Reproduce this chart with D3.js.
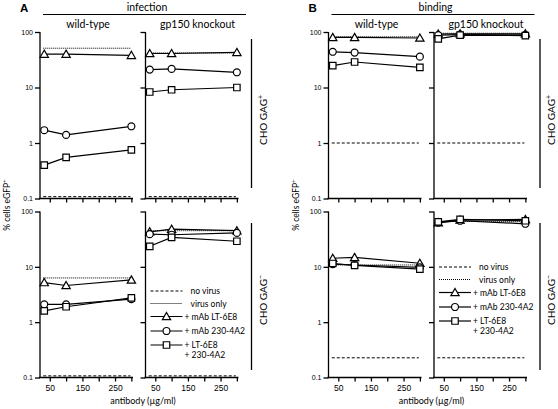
<!DOCTYPE html>
<html><head><meta charset="utf-8">
<script src="https://cdn.jsdelivr.net/npm/d3@7"></script>
<style>
body{margin:0;background:#fff;}
svg{font-family:Lato,"Open Sans",sans-serif;}
</style></head>
<body><svg id="c" width="558" height="409"></svg>
<script>
// ---------- data ----------
const doses = [33, 100, 300];
const xTicks = [50, 100, 150, 200, 250, 300];
const xTickLabels = ["50", "", "150", "", "250", ""];
const yTicks = [0.1, 1, 10, 100];
const yTickLabels = ["0.1", "1", "10", "100"];
const seriesNames = ["+ mAb LT-6E8", "+ mAb 230-4A2", "+ LT-6E8\n+ 230-4A2"];
const refNames = ["no virus", "virus only"];

// Infection, wild-type, CHO GAG+
const infWtPosLT = [40, 40, 38];
const infWtPos230 = [1.7, 1.4, 2.0];
const infWtPosCombo = [0.40, 0.55, 0.75];
const infWtPosRef = [0.108, 51];
// Infection, gp150 knockout, CHO GAG+
const infKoPosLT = [41, 41, 43];
const infKoPos230 = [21, 21.6, 18.8];
const infKoPosCombo = [8.3, 9.1, 10];
const infKoPosRef = [0.108, 42];
// Infection, wild-type, CHO GAG-
const infWtNegLT = [5.2, 4.6, 5.8];
const infWtNeg230 = [2.1, 2.1, 2.6];
const infWtNegCombo = [1.6, 1.9, 2.75];
const infWtNegRef = [0.107, 6.3];
// Infection, gp150 knockout, CHO GAG-
const infKoNegLT = [43, 48, 45];
const infKoNeg230 = [39, 38, 41];
const infKoNegCombo = [23.5, 34, 29];
const infKoNegRef = [0.107, 45];
// Binding, wild-type, CHO GAG+
const binWtPosLT = [80, 80, 78];
const binWtPos230 = [44, 42.5, 36];
const binWtPosCombo = [24.7, 28.8, 23];
const binWtPosRef = [1.0, 82];
// Binding, gp150 knockout, CHO GAG+
const binKoPosLT = [92, 93, 93];
const binKoPos230 = [88, 90, 89];
const binKoPosCombo = [75, 88, 86];
const binKoPosRef = [1.0, 95];
// Binding, wild-type, CHO GAG-
const binWtNegLT = [14.3, 14.8, 11.6];
const binWtNeg230 = [11.2, 10.8, 9.8];
const binWtNegCombo = [11.5, 10.6, 9.1];
const binWtNegRef = [0.227, 10.8];
// Binding, gp150 knockout, CHO GAG-
const binKoNegLT = [63, 70, 72];
const binKoNeg230 = [63, 68, 60];
const binKoNegCombo = [65, 72, 68];
const binKoNegRef = [0.227, 66];

// ---------- drawing ----------
const svg = d3.select("#c");
const rows = [{top: 32, bot: 198.5}, {top: 211.5, bot: 377.5}];
const plotW = 93;

function drawPlot(x0, row, series, ref, opts) {
  const g = svg.append("g");
  const x = d3.scaleLinear().domain([20, 305]).range([x0, x0 + plotW]);
  const y = d3.scaleLog().domain([0.1, 100]).range([row.bot, row.top]);
  const ya = d3.axisLeft(y).tickValues(yTicks).tickSize(5).tickPadding(2)
    .tickFormat((d, i) => opts.yLabels ? yTickLabels[i] : "");
  const yg = g.append("g").attr("transform", `translate(${x0},0)`).call(ya);
  yg.select(".domain").attr("d", `M0,${row.top}V${row.bot}`);
  const xa = d3.axisBottom(x).tickValues(xTicks).tickSize(4).tickPadding(3)
    .tickFormat((d, i) => opts.xLabels ? xTickLabels[i] : "");
  const xg = g.append("g").attr("transform", `translate(0,${row.bot})`).call(xa);
  xg.select(".domain").attr("d", `M${x0 - 1},0H${x0 + plotW}`);
  [yg, xg].forEach(a => {
    a.selectAll("path,line").attr("stroke", "#000").attr("stroke-width", 1.3);
    a.selectAll("text").attr("fill", "#000");
  });
  xg.selectAll("text").attr("font-size", 8.5);
  yg.selectAll("text").attr("font-size", 7);
  const x1 = x(30), x2 = x(297);
  g.append("line").attr("x1", x1).attr("x2", x2).attr("y1", y(ref[0])).attr("y2", y(ref[0]))
    .attr("stroke", "#000").attr("stroke-width", 1).attr("stroke-dasharray", "3,2");
  g.append("line").attr("x1", x1).attr("x2", x2).attr("y1", y(ref[1])).attr("y2", y(ref[1]))
    .attr("stroke", "#000").attr("stroke-width", 1).attr("stroke-dasharray", "1,1");
  const line = d3.line().x((d, i) => x(doses[i])).y(d => y(d));
  const shapes = [d3.symbolTriangle, d3.symbolCircle, d3.symbolSquare];
  const sizes = [30, 38, 42];
  series.forEach((s) => {
    g.append("path").datum(s).attr("d", line).attr("fill", "none")
      .attr("stroke", "#000").attr("stroke-width", 1.2);
  });
  series.forEach((s, k) => {
    g.selectAll(null).data(s).enter().append("path")
      .attr("d", d3.symbol().type(shapes[k]).size(sizes[k]))
      .attr("transform", (d, i) => `translate(${x(doses[i])},${y(d) + (k === 0 ? 0.8 : 0)})`)
      .attr("fill", "#fff").attr("stroke", "#000").attr("stroke-width", 1.2);
  });
  if (opts.legendY) drawLegend(x0, opts.legendY, shapes, sizes);
}

function drawLegend(x0, ly, shapes, sizes) {
  const g = svg.append("g").attr("font-size", 8.5);
  const lx1 = x0 + 5, lx2 = x0 + 37, tx = x0 + 45;
  const offs = [0, 12.5, 25.5, 40, 54];
  g.append("line").attr("x1", lx1).attr("x2", lx2).attr("y1", ly).attr("y2", ly)
    .attr("stroke", "#000").attr("stroke-dasharray", "3,2");
  g.append("line").attr("x1", lx1).attr("x2", lx2).attr("y1", ly + offs[1]).attr("y2", ly + offs[1])
    .attr("stroke", "#000").attr("stroke-dasharray", "1,1");
  refNames.forEach((n, i) => g.append("text").attr("x", tx).attr("y", ly + offs[i] + 3).text(n));
  seriesNames.forEach((n, k) => {
    const yy = ly + offs[k + 2];
    g.append("line").attr("x1", lx1).attr("x2", lx2).attr("y1", yy).attr("y2", yy)
      .attr("stroke", "#000").attr("stroke-width", 1.2);
    g.append("path").attr("d", d3.symbol().type(shapes[k]).size(sizes[k])())
      .attr("transform", `translate(${(lx1 + lx2) / 2},${yy + (k === 0 ? 0.8 : 0)})`)
      .attr("fill", "#fff").attr("stroke", "#000").attr("stroke-width", 1.2);
    const t = g.append("text").attr("y", yy + 3);
    n.split("\n").forEach((p, j) => t.append("tspan").attr("x", x0 + 39).attr("dy", j ? 9.5 : 0).text(p));
  });
}

function drawPanel(px, letter, title, plots, legendY) {
  const xl = px, xr = px + 105.5;
  svg.append("text").attr("x", px - 20).attr("y", 12).attr("font-size", 11.5)
    .attr("font-weight", "bold").attr("font-family", "Liberation Sans, Arial, sans-serif").text(letter);
  svg.append("text").attr("x", px + 107).attr("y", 10.5).attr("font-size", 10.5)
    .attr("text-anchor", "middle").text(title);
  svg.append("line").attr("x1", px + 3).attr("x2", px + 206).attr("y1", 14.5).attr("y2", 14.5)
    .attr("stroke", "#000").attr("stroke-width", 1.2);
  svg.append("text").attr("x", xl + 48).attr("y", 27.5).attr("font-size", 10.5)
    .attr("text-anchor", "middle").text("wild-type");
  svg.append("text").attr("x", xr + 52).attr("y", 27.5).attr("font-size", 10.5)
    .attr("text-anchor", "middle").text("gp150 knockout");
  drawPlot(xl, rows[0], plots[0][0].series, plots[0][0].ref, {yLabels: true});
  drawPlot(xr, rows[0], plots[0][1].series, plots[0][1].ref, {});
  drawPlot(xl, rows[1], plots[1][0].series, plots[1][0].ref, {yLabels: true, xLabels: true});
  drawPlot(xr, rows[1], plots[1][1].series, plots[1][1].ref, {xLabels: true, legendY: legendY});
  const rx = px + 211.5;
  [[39, 188, 120, "+"], [223, 370, 300, "\u2212"]].forEach(([a, b, c, sgn]) => {
    svg.append("line").attr("x1", rx).attr("x2", rx).attr("y1", a).attr("y2", b)
      .attr("stroke", "#000").attr("stroke-width", 1.3);
    const t = svg.append("text").attr("transform", `translate(${rx + 15},${c}) rotate(-90)`)
      .attr("text-anchor", "middle").attr("font-size", 10);
    t.append("tspan").text("CHO GAG");
    t.append("tspan").attr("font-size", 7).attr("dy", -4).text(sgn);
  });
  const yt = svg.append("text").attr("transform", `translate(${px - 30},205) rotate(-90)`)
    .attr("text-anchor", "middle").attr("font-size", 8.5);
  yt.append("tspan").text("% cells eGFP");
  yt.append("tspan").attr("font-size", 6.5).attr("dy", -3).text("+");
  svg.append("text").attr("x", px + 103).attr("y", 404).attr("text-anchor", "middle")
    .attr("font-size", 9).text("antibody (\u00b5g/ml)");
}

drawPanel(40, "A", "infection", [
  [{series: [infWtPosLT, infWtPos230, infWtPosCombo], ref: infWtPosRef},
   {series: [infKoPosLT, infKoPos230, infKoPosCombo], ref: infKoPosRef}],
  [{series: [infWtNegLT, infWtNeg230, infWtNegCombo], ref: infWtNegRef},
   {series: [infKoNegLT, infKoNeg230, infKoNegCombo], ref: infKoNegRef}]
], 291);
drawPanel(328.5, "B", "binding", [
  [{series: [binWtPosLT, binWtPos230, binWtPosCombo], ref: binWtPosRef},
   {series: [binKoPosLT, binKoPos230, binKoPosCombo], ref: binKoPosRef}],
  [{series: [binWtNegLT, binWtNeg230, binWtNegCombo], ref: binWtNegRef},
   {series: [binKoNegLT, binKoNeg230, binKoNegCombo], ref: binKoNegRef}]
], 267);
</script></body></html>
